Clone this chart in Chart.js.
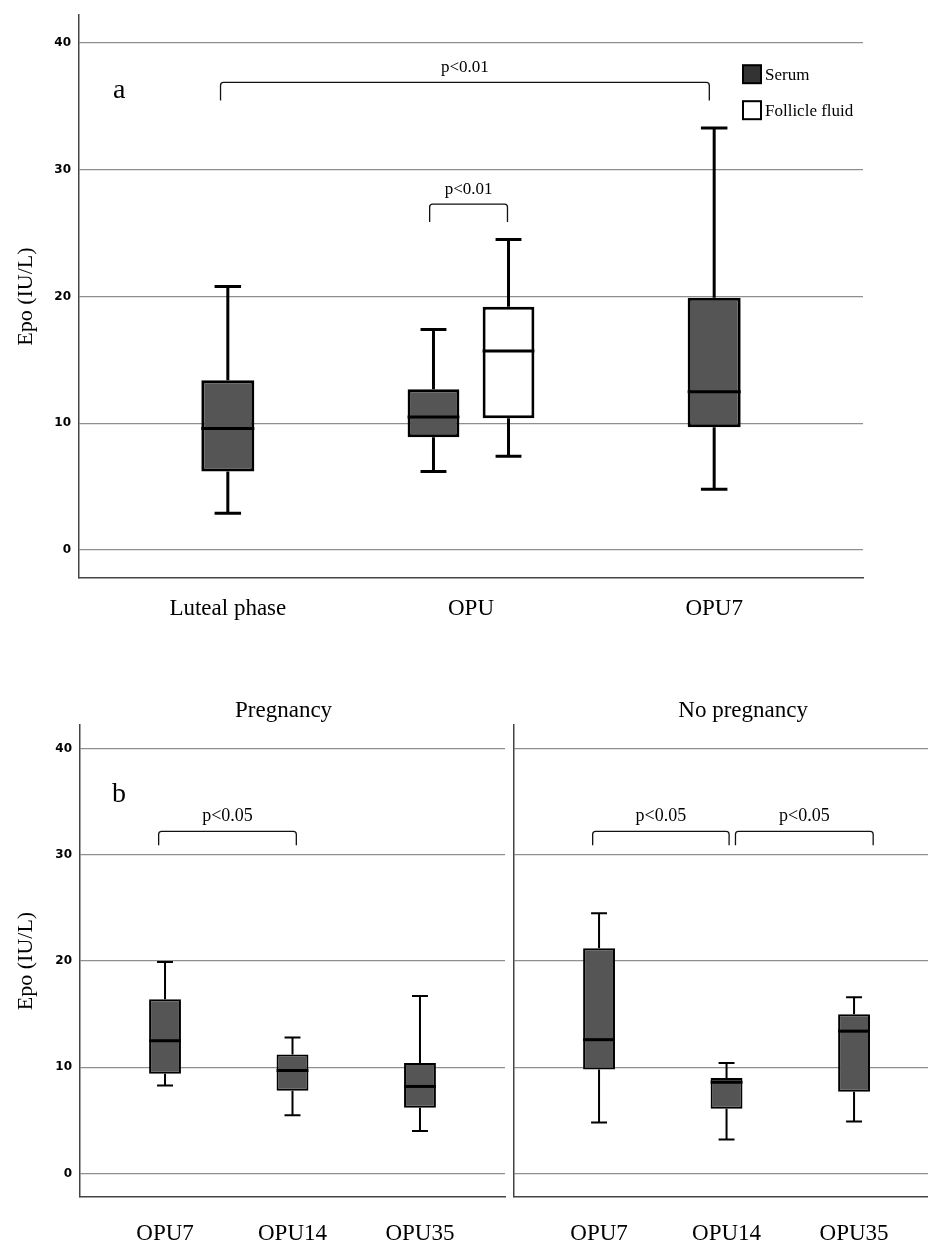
<!DOCTYPE html>
<html>
<head>
<meta charset="utf-8">
<script src="https://cdn.jsdelivr.net/npm/chart.js@4"></script>
<style>
  html, body { margin: 0; padding: 0; background: #fff; }
  #wrap { position: relative; width: 928px; height: 1244px; }
  canvas { position: absolute; }
</style>
</head>
<body>
<div id="wrap">
  <canvas id="chart-a" width="928" height="640" style="left:0;top:0"></canvas>
  <canvas id="chart-preg" width="510" height="564" style="left:0;top:680px"></canvas>
  <canvas id="chart-nopreg" width="418" height="564" style="left:510px;top:680px"></canvas>
</div>
<script>
// panel a: serum vs follicle fluid
const phaseLabels = ['Luteal phase', 'OPU', 'OPU7'];
const serumLow = [2.9, 6.2, 4.8];
const serumQ1 = [6.2, 8.9, 9.7];
const serumMedian = [9.6, 10.5, 12.5];
const serumQ3 = [13.4, 12.7, 19.9];
const serumHigh = [20.8, 17.4, 33.3];
const fluidLow = [null, 7.4, null];
const fluidQ1 = [null, 10.4, null];
const fluidMedian = [null, 15.7, null];
const fluidQ3 = [null, 19.2, null];
const fluidHigh = [null, 24.5, null];

// panel b: pregnancy / no pregnancy
const dayLabels = ['OPU7', 'OPU14', 'OPU35'];
const pregLow = [8.3, 5.5, 4.0];
const pregQ1 = [9.4, 7.8, 6.2];
const pregMedian = [12.5, 9.7, 8.2];
const pregQ3 = [16.4, 11.2, 10.4];
const pregHigh = [19.9, 12.8, 16.7];
const noPregLow = [4.8, 3.2, 4.9];
const noPregQ1 = [9.8, 6.1, 7.7];
const noPregMedian = [12.6, 8.6, 13.4];
const noPregQ3 = [21.2, 9.0, 15.0];
const noPregHigh = [24.5, 10.4, 16.6];

const yTicks = [0, 10, 20, 30, 40];

// significance brackets (x in category units, y in IU/L)
const bracketsA = [
  { from: -0.03, to: 1.98, y: 36.9, label: 'p<0.01' },
  { from: 0.83, to: 1.15, y: 27.3, label: 'p<0.01' }
];
const bracketsPreg = [{ from: -0.05, to: 1.03, y: 32.2, label: 'p<0.05' }];
const bracketsNoPreg = [
  { from: -0.05, to: 1.02, y: 32.2, label: 'p<0.05' },
  { from: 1.07, to: 2.15, y: 32.2, label: 'p<0.05' }
];

const SERIF = '"Liberation Serif", "Times New Roman", serif';

function boxSet(label, low, q1, median, q3, high, fill) {
  return {
    label: label,
    data: q1.map((v, i) => ({ x: i, y: v == null ? null : [v, q3[i]] })),
    low: low, q1: q1, median: median, q3: q3, high: high,
    backgroundColor: fill,
    borderColor: '#000',
    borderSkipped: false,
    skipNull: true
  };
}

// whiskers + median line on top of the floating bars
const boxPlugin = {
  id: 'boxWhiskers',
  afterDatasetsDraw(chart, args, opts) {
    const ctx = chart.ctx;
    const y = chart.scales.y;
    chart.data.datasets.forEach((ds, di) => {
      chart.getDatasetMeta(di).data.forEach((bar, i) => {
        if (ds.median[i] == null) return;
        const x = bar.x, half = bar.width / 2, cap = bar.width / 4;
        const hi = y.getPixelForValue(ds.high[i]);
        const lo = y.getPixelForValue(ds.low[i]);
        ctx.save();
        ctx.strokeStyle = '#000';
        ctx.lineWidth = opts.whisker;
        ctx.beginPath();
        ctx.moveTo(x, y.getPixelForValue(ds.q3[i]));
        ctx.lineTo(x, hi);
        ctx.moveTo(x - cap, hi);
        ctx.lineTo(x + cap, hi);
        ctx.moveTo(x, y.getPixelForValue(ds.q1[i]));
        ctx.lineTo(x, lo);
        ctx.moveTo(x - cap, lo);
        ctx.lineTo(x + cap, lo);
        ctx.stroke();
        const m = y.getPixelForValue(ds.median[i]);
        ctx.lineWidth = opts.median;
        ctx.beginPath();
        ctx.moveTo(x - half, m);
        ctx.lineTo(x + half, m);
        ctx.stroke();
        ctx.restore();
      });
    });
  }
};

// panel letter, facet title, brackets, legend
const notesPlugin = {
  id: 'notes',
  afterDraw(chart, args, o) {
    const { ctx, chartArea: a } = chart;
    const x = chart.scales.x, y = chart.scales.y;
    ctx.save();
    ctx.fillStyle = '#000';
    ctx.strokeStyle = '#111';
    ctx.textBaseline = 'alphabetic';
    if (o.letter) {
      ctx.font = '28px ' + SERIF;
      ctx.textAlign = 'left';
      ctx.fillText(o.letter, a.left + o.letterDx, a.top + o.letterDy);
    }
    if (o.title) {
      ctx.font = '23px ' + SERIF;
      ctx.textAlign = 'center';
      ctx.fillText(o.title, x.getPixelForValue(o.titleAt), a.top - 8);
    }
    (o.brackets || []).forEach(b => {
      const x1 = x.getPixelForValue(b.from), x2 = x.getPixelForValue(b.to);
      const yy = y.getPixelForValue(b.y), r = 3;
      ctx.lineWidth = 1.3;
      ctx.beginPath();
      ctx.moveTo(x1, yy + o.drop);
      ctx.lineTo(x1, yy + r);
      ctx.quadraticCurveTo(x1, yy, x1 + r, yy);
      ctx.lineTo(x2 - r, yy);
      ctx.quadraticCurveTo(x2, yy, x2, yy + r);
      ctx.lineTo(x2, yy + o.drop);
      ctx.stroke();
      ctx.font = o.pSize + 'px ' + SERIF;
      ctx.textAlign = 'center';
      ctx.fillText(b.label, (x1 + x2) / 2, yy - 10);
    });
    (o.legend || []).forEach((item, i) => {
      const lx = a.right - 120, ly = a.top + 50 + i * 36;
      ctx.fillStyle = item.fill;
      ctx.fillRect(lx, ly, 18, 18);
      ctx.lineWidth = 2;
      ctx.strokeStyle = '#000';
      ctx.strokeRect(lx, ly, 18, 18);
      ctx.fillStyle = '#000';
      ctx.font = '17px ' + SERIF;
      ctx.textAlign = 'left';
      ctx.fillText(item.label, lx + 22, ly + 15);
    });
    ctx.restore();
  }
};

function boxChart(canvasId, cfg) {
  return new Chart(document.getElementById(canvasId), {
    type: 'bar',
    data: { datasets: cfg.datasets },
    options: {
      responsive: false,
      animation: false,
      layout: { padding: cfg.padding },
      datasets: {
        bar: {
          borderWidth: cfg.boxBorder,
          categoryPercentage: cfg.catPct,
          barPercentage: cfg.barPct,
          maxBarThickness: cfg.maxBar
        }
      },
      plugins: {
        legend: { display: false },
        tooltip: { enabled: false },
        boxWhiskers: { whisker: cfg.whisker, median: 3 },
        notes: cfg.notes
      },
      scales: {
        x: {
          type: 'linear',
          min: cfg.xMin,
          max: cfg.xMax,
          offset: false,
          afterBuildTicks: s => { s.ticks = cfg.labels.map((_, i) => ({ value: i })); },
          afterFit: s => { s.height = cfg.xHeight; },
          grid: { display: false, offset: false },
          border: { display: true, color: '#444', width: 1.5 },
          ticks: {
            autoSkip: false,
            maxRotation: 0,
            padding: cfg.labelPad,
            color: '#000',
            font: { family: SERIF, size: 23 },
            callback: (v, i) => cfg.labels[i]
          }
        },
        y: {
          type: 'linear',
          min: -2.2,
          max: 42.2,
          afterBuildTicks: s => { s.ticks = yTicks.map(v => ({ value: v })); },
          afterFit: s => { s.width = cfg.yWidth; },
          grid: { color: '#8f8f8f', lineWidth: 1.3, drawTicks: false },
          border: { color: '#444', width: 1.5 },
          ticks: {
            display: cfg.showY,
            padding: 8,
            color: '#000',
            font: { family: '"DejaVu Sans", sans-serif', size: 12, weight: 'bold' }
          },
          title: {
            display: cfg.showY,
            text: 'Epo (IU/L)',
            color: '#000',
            font: { family: SERIF, size: 22 },
            padding: { top: 13, bottom: 0 }
          }
        }
      }
    },
    plugins: [boxPlugin, notesPlugin]
  });
}

boxChart('chart-a', {
  labels: phaseLabels,
  datasets: [
    boxSet('Serum', serumLow, serumQ1, serumMedian, serumQ3, serumHigh, '#555555'),
    boxSet('Follicle fluid', fluidLow, fluidQ1, fluidMedian, fluidQ3, fluidHigh, '#ffffff')
  ],
  xMin: -0.612, xMax: 2.612,
  padding: { top: 12, right: 65, left: 0, bottom: 0 },
  xHeight: 62, yWidth: 79, labelPad: 9, showY: true,
  boxBorder: 3, whisker: 3,
  catPct: 0.617, barPct: 0.69, maxBar: 53,
  notes: {
    letter: 'a', letterDx: 34, letterDy: 83,
    brackets: bracketsA, drop: 18, pSize: 17,
    legend: [{ label: 'Serum', fill: '#333333' }, { label: 'Follicle fluid', fill: '#ffffff' }]
  }
});

boxChart('chart-preg', {
  labels: dayLabels,
  datasets: [boxSet('Pregnancy', pregLow, pregQ1, pregMedian, pregQ3, pregHigh, '#555555')],
  xMin: -0.667, xMax: 2.667,
  padding: { top: 45, right: 5, left: 0, bottom: 0 },
  xHeight: 47, yWidth: 80, labelPad: 15, showY: true,
  boxBorder: 2, whisker: 2,
  catPct: 1, barPct: 0.25, maxBar: 40,
  notes: {
    letter: 'b', letterDx: 32, letterDy: 77,
    title: 'Pregnancy', titleAt: 0.93,
    brackets: bracketsPreg, drop: 14, pSize: 18
  }
});

boxChart('chart-nopreg', {
  labels: dayLabels,
  datasets: [boxSet('No pregnancy', noPregLow, noPregQ1, noPregMedian, noPregQ3, noPregHigh, '#555555')],
  xMin: -0.667, xMax: 2.58,
  padding: { top: 45, right: 0, left: 0, bottom: 0 },
  xHeight: 47, yWidth: 4, labelPad: 15, showY: false,
  boxBorder: 2, whisker: 2,
  catPct: 1, barPct: 0.25, maxBar: 40,
  notes: {
    title: 'No pregnancy', titleAt: 1.13,
    brackets: bracketsNoPreg, drop: 14, pSize: 18
  }
});
</script>
</body>
</html>
